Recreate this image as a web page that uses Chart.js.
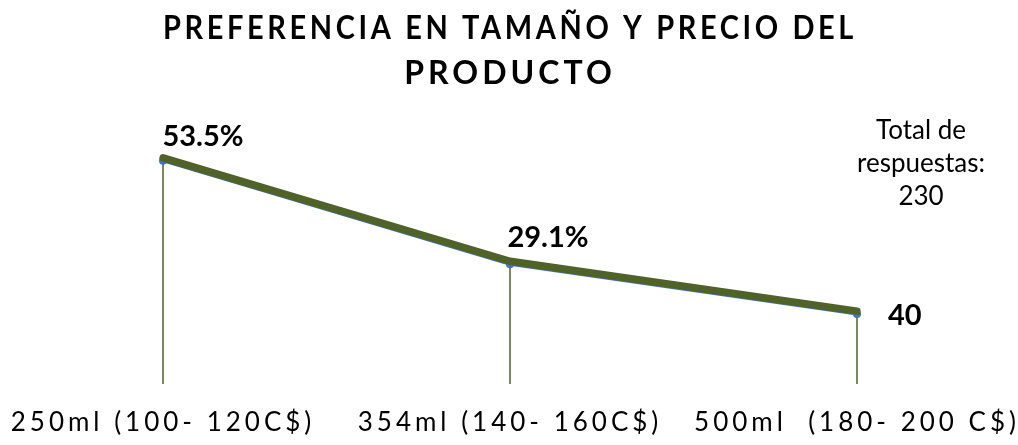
<!DOCTYPE html>
<html>
<head>
<meta charset="utf-8">
<script src="https://cdn.jsdelivr.net/npm/chart.js@4"></script>
<style>
  html, body { margin: 0; padding: 0; background: #fff; }
  #grafico { display: block; }
</style>
</head>
<body>
<canvas id="grafico" width="1018" height="445"></canvas>
<script>
// categorías del eje x
const categorias = ['250ml (100- 120C$)', '354ml (140- 160C$)', '500ml  (180- 200 C$)']
// número de respuestas por tamaño
const respuestas = [123, 67, 40]
const totalRespuestas = 230
// cómo se muestra la etiqueta de cada punto: porcentaje o cantidad
const formatoEtiqueta = ['pct', 'pct', 'n']

const verde = '#4f6228'
const azul = '#4472c4'
const fuente = 'Lato, "Open Sans", sans-serif'

const etiquetas = respuestas.map((v, i) =>
  formatoEtiqueta[i] === 'pct' ? (v / totalRespuestas * 100).toFixed(1) + '%' : String(v))

// espaciado de letras para título y ticks
const espaciado = {
  id: 'espaciado',
  beforeDraw(chart) {
    chart.ctx.letterSpacing = '4px'
  },
}

// la línea verde gruesa se dibuja un poco por encima de la azul
const desplazarVerde = {
  id: 'desplazarVerde',
  beforeDatasetDraw(chart, args) {
    if (args.index === 0) {
      chart.ctx.save()
      chart.ctx.translate(0, -3)
    }
  },
  afterDatasetDraw(chart, args) {
    if (args.index === 0) chart.ctx.restore()
  },
}

// líneas verticales desde cada punto hasta la base
const lineasCaida = {
  id: 'lineasCaida',
  beforeDatasetsDraw(chart) {
    const ctx = chart.ctx
    const meta = chart.getDatasetMeta(1)
    ctx.save()
    ctx.strokeStyle = verde
    ctx.lineWidth = 1.5
    meta.data.forEach(p => {
      ctx.beginPath()
      ctx.moveTo(p.x, p.y)
      ctx.lineTo(p.x, chart.chartArea.bottom - 4)
      ctx.stroke()
    })
    ctx.restore()
  },
}

// etiquetas de datos y nota del total
const textos = {
  id: 'textos',
  afterDatasetsDraw(chart) {
    const ctx = chart.ctx
    const meta = chart.getDatasetMeta(1)
    ctx.save()
    ctx.letterSpacing = '0px'
    ctx.fillStyle = '#000'
    ctx.font = 'bold 29px ' + fuente
    ctx.textBaseline = 'middle'
    const desp = [[40, -24], [38, -27], [31, 2]]
    meta.data.forEach((p, i) => {
      ctx.textAlign = i === 2 ? 'left' : 'center'
      ctx.fillText(etiquetas[i], p.x + desp[i][0], p.y + desp[i][1])
    })
    ctx.font = '26px ' + fuente
    ctx.textAlign = 'center'
    const lineas = ['Total de', 'respuestas:', String(totalRespuestas)]
    lineas.forEach((t, i) => ctx.fillText(t, 921, 131 + i * 33))
    ctx.restore()
  },
}

new Chart(document.getElementById('grafico').getContext('2d'), {
  type: 'line',
  data: {
    labels: categorias,
    datasets: [
      {
        data: respuestas,
        borderColor: verde,
        borderWidth: 7.5,
        borderCapStyle: 'round',
        borderJoinStyle: 'round',
        pointRadius: 0,
        tension: 0,
      },
      {
        data: respuestas,
        borderColor: azul,
        backgroundColor: azul,
        borderWidth: 3,
        pointRadius: 4,
        pointBorderWidth: 0,
        tension: 0,
      },
    ],
  },
  options: {
    responsive: false,
    animation: false,
    layout: { padding: { top: 0, bottom: 7, left: 163, right: 161 } },
    plugins: {
      legend: { display: false },
      tooltip: { enabled: false },
      title: {
        display: true,
        text: ['PREFERENCIA EN TAMAÑO Y PRECIO DEL', 'PRODUCTO'],
        color: '#000',
        font: { family: fuente, size: 32, weight: 'bold', lineHeight: 1.42 },
        padding: { top: 6, bottom: 51 },
      },
    },
    scales: {
      x: {
        offset: false,
        grid: { display: false, drawTicks: false },
        border: { display: false },
        ticks: {
          color: '#000',
          padding: 19,
          maxRotation: 0,
          font: { family: fuente, size: 26 },
        },
        // alto fijo: separación más una línea de texto
        afterFit(scale) {
          scale.height = 50
        },
      },
      y: {
        display: false,
        min: 0,
        max: 130,
      },
    },
  },
  plugins: [espaciado, desplazarVerde, lineasCaida, textos],
})
</script>
</body>
</html>
